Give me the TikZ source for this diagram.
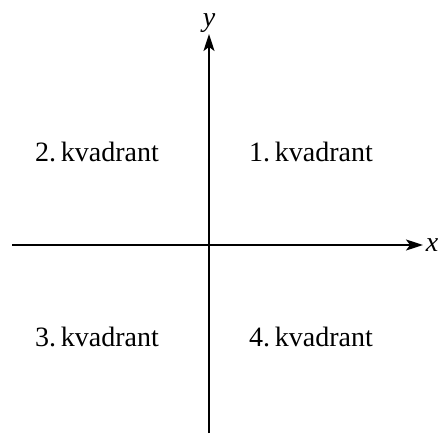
\documentclass[tikz,border=0pt]{standalone}
\usepackage{fontspec}
\setmainfont{Liberation Serif}[Extension=.ttf,UprightFont=LiberationSerif-Regular,ItalicFont=LiberationSerif-Italic]
\usetikzlibrary{arrows.meta}
\begin{document}
\begin{tikzpicture}[x=1pt,y=-1pt,line width=1.8pt,
    every node/.style={font=\fontsize{28}{34}\selectfont},
    kvad/.style={anchor=base}]
    \useasboundingbox (0,0) rectangle (440,436);
    \coordinate (xl) at (12,245);
    \coordinate (xr) at (423,245);
    \coordinate (yb) at (209,433);
    \coordinate (yt) at (209,34);
    \draw[-{Stealth[length=17pt,width=11pt,inset=4pt]}] (xl) -- (xr) node[right,inner sep=2pt] (xlab) {\textit{x}};
    \draw[-{Stealth[length=17pt,width=11pt,inset=4pt]}] (yb) -- (yt) node[above,inner sep=1pt] (ylab) {\textit{y}};
    \node[kvad] (q1) at (311,162) {1.\,kvadrant};
    \node[kvad] (q2) at (97,162) {2.\,kvadrant};
    \node[kvad] (q3) at (97,346) {3.\,kvadrant};
    \node[kvad] (q4) at (311,346) {4.\,kvadrant};
\end{tikzpicture}
\end{document}
